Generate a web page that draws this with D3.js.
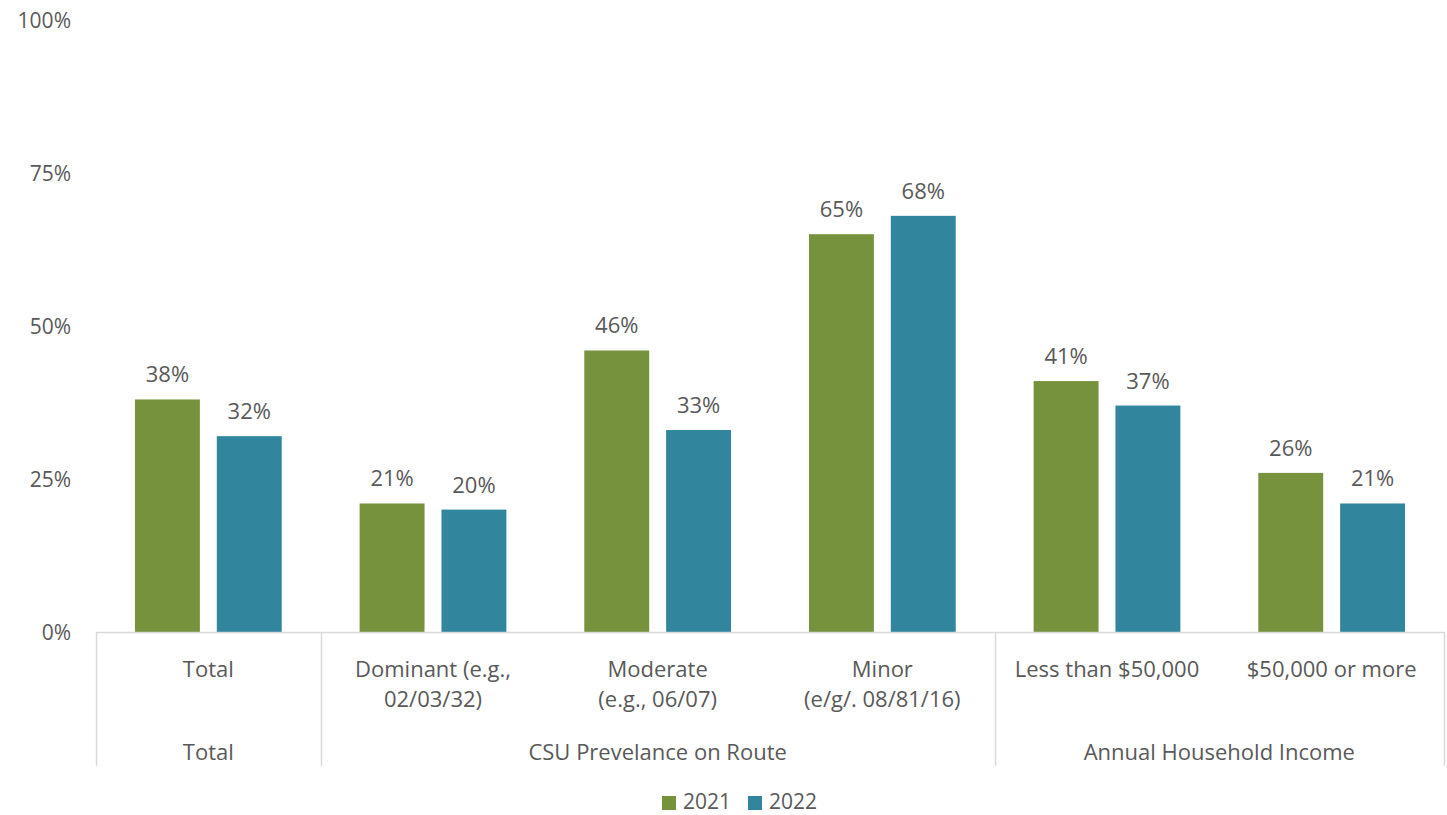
<!DOCTYPE html>
<html>
<head>
<meta charset="utf-8">
<script src="https://cdn.jsdelivr.net/npm/d3@7"></script>
<style>
  html, body { margin: 0; padding: 0; background: #fff; }
  svg text { font-family: "Open Sans", "Noto Sans", sans-serif; fill: #595959; }
</style>
</head>
<body>
<svg id="chart" width="1447" height="815"></svg>
<script>
// Categories (first-level axis labels, split into lines) and their groups
const categories = ["Total", "Dominant", "Moderate", "Minor", "LessThan50k", "50kOrMore"];
const categoryLabels = [
  ["Total"],
  ["Dominant (e.g.,", "02/03/32)"],
  ["Moderate", "(e.g., 06/07)"],
  ["Minor", "(e/g/. 08/81/16)"],
  ["Less than $50,000"],
  ["$50,000 or more"]
];
const groups = ["Total", "CSU Prevelance on Route", "Annual Household Income"];
const groupMembers = [["Total"], ["Dominant", "Moderate", "Minor"], ["LessThan50k", "50kOrMore"]];

// Series
const seriesNames = ["2021", "2022"];
const values2021 = [0.38, 0.21, 0.46, 0.65, 0.41, 0.26];
const values2022 = [0.32, 0.20, 0.33, 0.68, 0.37, 0.21];

// Value axis ticks
const yTicks = [0, 0.25, 0.5, 0.75, 1];

const colors = { "2021": "#76923C", "2022": "#31859C" };

const svg = d3.select("#chart");
const plot = { left: 96, right: 1444, top: 20, bottom: 632 };
const axisBottom = 766;
const fontSize = "22px";

const x = d3.scaleBand().domain(categories).range([plot.left, plot.right]).padding(0);
const xSub = d3.scaleBand().domain(seriesNames).range([0, x.bandwidth()])
  .paddingInner(0.207).paddingOuter(0.476);
const y = d3.scaleLinear().domain([0, 1]).range([plot.bottom, plot.top]);

const pct = d3.format(".0%");

// Y tick labels (no gridlines)
svg.append("g").selectAll("text").data(yTicks).join("text")
  .attr("x", 71).attr("y", d => y(d))
  .attr("text-anchor", "end").attr("dominant-baseline", "central")
  .style("font-size", "21px")
  .text(pct);

// Bars
const rows = categories.map((c, i) => ({ cat: c, vals: [values2021[i], values2022[i]] }));
const catG = svg.append("g").selectAll("g").data(rows).join("g")
  .attr("transform", d => `translate(${x(d.cat)},0)`);

catG.selectAll("rect").data(d => d.vals.map((v, j) => ({ s: seriesNames[j], v })))
  .join("rect")
  .attr("x", d => xSub(d.s)).attr("width", xSub.bandwidth())
  .attr("y", d => y(d.v)).attr("height", d => y(0) - y(d.v))
  .attr("fill", d => colors[d.s]);

catG.selectAll("text.val").data(d => d.vals.map((v, j) => ({ s: seriesNames[j], v })))
  .join("text").attr("class", "val")
  .attr("x", d => xSub(d.s) + xSub.bandwidth() / 2)
  .attr("y", d => y(d.v) - 17)
  .attr("text-anchor", "middle")
  .style("font-size", fontSize)
  .text(d => pct(d.v));

// Category axis: baseline and group separators
const axisColor = "#D9D9D9";
svg.append("line")
  .attr("x1", plot.left).attr("x2", plot.right)
  .attr("y1", plot.bottom + 0.5).attr("y2", plot.bottom + 0.5)
  .attr("stroke", axisColor).attr("stroke-width", 1.5);

const groupSpans = groupMembers.map(m => ({
  x0: x(m[0]), x1: x(m[m.length - 1]) + x.bandwidth()
}));
const sepX = [plot.left, ...groupSpans.map(g => g.x1)];
svg.append("g").selectAll("line").data(sepX).join("line")
  .attr("x1", d => Math.round(d) + 0.5).attr("x2", d => Math.round(d) + 0.5)
  .attr("y1", plot.bottom).attr("y2", axisBottom)
  .attr("stroke", axisColor).attr("stroke-width", 1.5);

// First-level labels
svg.append("g").selectAll("text").data(categories).join("text")
  .attr("x", d => x(d) + x.bandwidth() / 2)
  .attr("y", 677)
  .attr("text-anchor", "middle")
  .style("font-size", fontSize)
  .selectAll("tspan").data((d, i) => categoryLabels[i]).join("tspan")
  .attr("x", function () { return this.parentNode.getAttribute("x"); })
  .attr("dy", (d, i) => i === 0 ? 0 : 29.5)
  .text(d => d);

// Group labels
svg.append("g").selectAll("text").data(groups).join("text")
  .attr("x", (d, i) => (groupSpans[i].x0 + groupSpans[i].x1) / 2)
  .attr("y", 760)
  .attr("text-anchor", "middle")
  .style("font-size", fontSize)
  .text(d => d);

// Legend
const legend = svg.append("g").attr("transform", "translate(662,0)");
const legendItems = legend.selectAll("g").data(seriesNames).join("g")
  .attr("transform", (d, i) => `translate(${i * 86},0)`);
legendItems.append("rect")
  .attr("x", 0).attr("y", 796).attr("width", 14).attr("height", 14)
  .attr("fill", d => colors[d]);
legendItems.append("text")
  .attr("x", 21).attr("y", 809)
  .style("font-size", "21px")
  .text(d => d);
</script>
</body>
</html>
